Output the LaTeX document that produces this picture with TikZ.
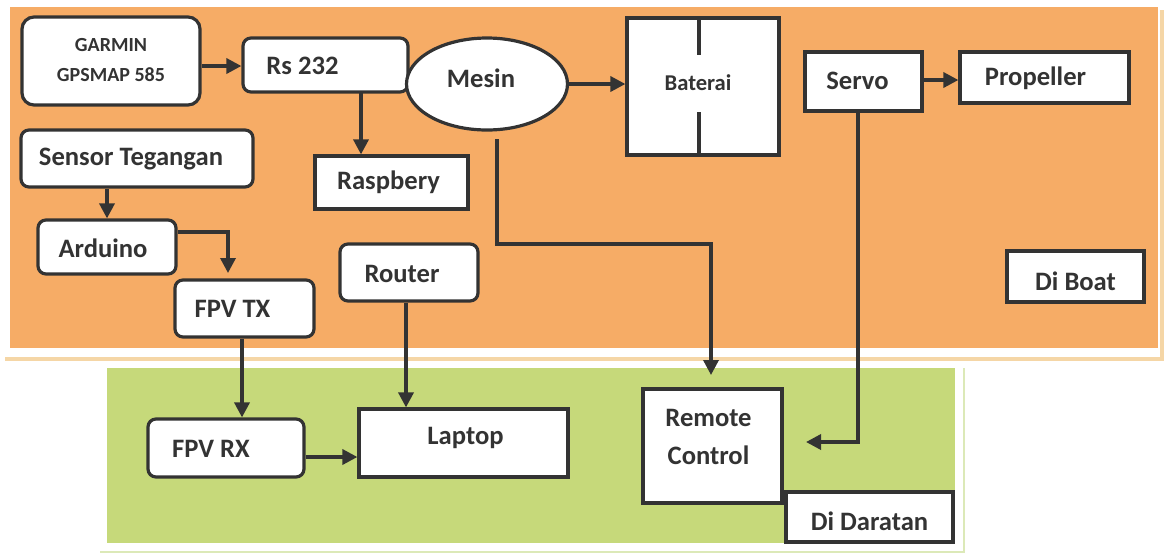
\documentclass[tikz,border=0pt]{standalone}
\usepackage{fontspec}
\setmainfont{Carlito}
\usetikzlibrary{arrows.meta,fit,shapes.geometric}

\definecolor{boatbg}{HTML}{F6AC66}
\definecolor{boatedge}{HTML}{F5D6A6}
\definecolor{landbg}{HTML}{C6D97A}
\definecolor{landedge}{HTML}{DCE9B8}
\definecolor{ink}{HTML}{333333}

\tikzset{
  base/.style={draw=ink, line width=1.6pt, fill=white, inner sep=0pt,
    font=\fontsize{13.3}{15}\selectfont\bfseries, text=ink},
  sqbox/.style={base},
  rbox/.style={base, rounded corners=4pt},
  conn/.style={draw=ink, line width=1.7pt,
    -{Triangle[length=7.5pt,width=7.5pt]}},
}

% box from corner (x1,y1) to (x2,y2), text shifted by (dx,dy)
\newcommand{\blk}[9]{%
  \node[#6, fit={(#2,#3) (#4,#5)},
        label={[font=\fontsize{13.3}{15}\selectfont\bfseries, text=ink,
                align=center, xshift=(#8)*0.5pt, yshift=-(#9)*0.5pt]center:#7}] (#1) {};}

\begin{document}
\begin{tikzpicture}[x=0.5pt, y=-0.5pt]
\useasboundingbox (0,0) rectangle (1167,553);
\fill[white] (0,0) rectangle (1167,553);

% background areas
\fill[boatbg] (10,7) rectangle (1158,348);
\draw[boatedge, line width=2pt] (5,359) -- (1162,359) -- (1162,10);
\fill[landbg] (107,368) rectangle (955,543);
\draw[landedge, line width=1.2pt] (100,552) -- (964,552) -- (964,368);

% boat-side units
\blk{gps}{22}{17}{200}{105}{rbox, rounded corners=6pt}{\fontsize{10}{13}\selectfont GARMIN\\\fontsize{10}{13}\selectfont GPSMAP 585}{0}{-1}
\blk{rs}{243}{38}{408}{92}{rbox}{Rs 232}{-23}{1}
\node[base, ellipse, minimum width=161*0.5pt, minimum height=92*0.5pt,
      label={[font=\fontsize{13.3}{15}\selectfont\bfseries, text=ink,
              xshift=-3pt, yshift=3pt]center:Mesin}] (mesin) at (487,84) {};
\blk{bat}{627}{18}{779}{155}{sqbox}{\fontsize{11.3}{13}\selectfont Baterai}{-5}{-4}
\draw[ink, line width=1.6pt] (699,18) -- (699,55) (699,112) -- (699,155);
\blk{servo}{805}{52}{922}{111}{sqbox}{Servo}{-6}{-1}
\blk{prop}{960}{52}{1129}{103}{sqbox}{Propeller}{-9}{1}
\blk{boat}{1007}{251}{1144}{302}{sqbox}{Di Boat}{0}{5}
\blk{rasp}{315}{156}{468}{209}{sqbox}{Raspbery}{-3}{0}
\blk{sensor}{21}{130}{253}{187}{rbox}{Sensor Tegangan}{-6}{1}
\blk{ard}{38}{220}{176}{274}{rbox}{Arduino}{-4}{1}
\blk{tx}{175}{280}{314}{337}{rbox}{FPV TX}{-12}{0}
\blk{router}{340}{244}{478}{301}{rbox}{Router}{-7}{1}

% ground-side units
\blk{rx}{148}{419}{304}{477}{rbox}{FPV RX}{-15}{1}
\blk{laptop}{359}{409}{568}{477}{sqbox}{Laptop}{2}{-5}
\blk{remote}{643}{389}{782}{503}{sqbox}{Remote\\[4pt]Control}{-4}{-9}
\blk{land}{786}{492}{953}{542}{sqbox}{Di Daratan}{0}{4}

% connectors
\coordinate (mesinout) at (497,139);
\coordinate (rctip) at (711,375);
\coordinate (svtip) at (806,442);
\coordinate (txtip) at (228,273);

\draw[conn] (gps.east |- 0,66) -- (rs.west |- 0,66);
\draw[conn] (361,92) -- (rasp.north -| 361,0);
\draw[conn] (mesin.east) -- (bat.west |- mesin.east);
\draw[conn] (servo.east |- 0,80) -- (prop.west |- 0,80);
\draw[conn] (sensor.south -| 107,0) -- (ard.north -| 107,0);
\draw[conn] (ard.east |- 0,232) -| (txtip);
\draw[conn] (tx.south -| 242,0) -- (rx.north -| 242,0);
\draw[conn] (router.south -| 406,0) -- (laptop.north -| 406,0);
\draw[conn] (rx.east |- 0,457) -- (laptop.west |- 0,457);
\draw[conn] (mesinout) |- (604,244) -| (rctip);
\draw[conn] (servo.south -| 858,0) |- (svtip);
\end{tikzpicture}
\end{document}
